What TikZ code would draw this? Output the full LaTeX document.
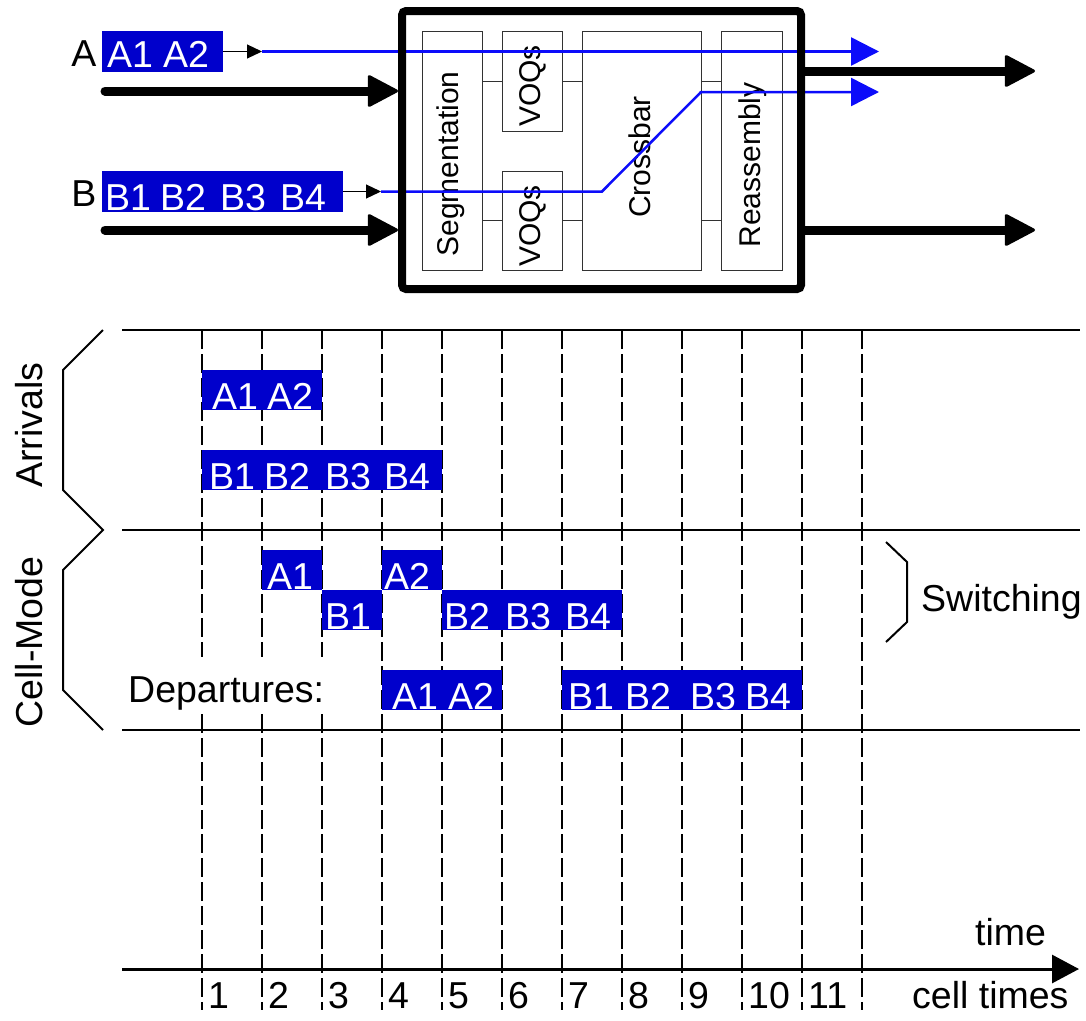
\documentclass[tikz,border=0pt]{standalone}
\usepackage{fontspec}
\setmainfont{Liberation Sans}
\usetikzlibrary{arrows.meta}
\definecolor{barblue}{RGB}{0,0,204}
\definecolor{lineblue}{RGB}{12,12,250}
\definecolor{boxgray}{RGB}{50,50,50}

\begin{document}
\begin{tikzpicture}[x=1pt,y=-1pt,
  big/.style={font=\fontsize{37.5}{40}\selectfont},
  small/.style={font=\fontsize{30}{32}\selectfont},
  bar/.style={fill=barblue, inner sep=0pt, outer sep=0pt, anchor=north west},
  celltext/.style={big, text=white, anchor=base west, inner sep=0pt},
  plain/.style={big, anchor=base west, inner sep=0pt},
  unit/.style={draw=boxgray, line width=1pt, inner sep=0pt, outer sep=0pt, anchor=north west},
  unitlink/.style={draw=boxgray, line width=1pt},
  gridline/.style={line width=2.7pt, dash pattern=on 19pt off 5pt},
  rule/.style={line width=1.5pt},
  axisline/.style={line width=3pt, -{Triangle[length=27pt,width=28pt]}},
  brace/.style={line width=2pt},
  thinarrow/.style={line width=1.2pt, -{Triangle[length=15pt,width=14pt]}},
  bluearrow/.style={draw=lineblue, line width=2.5pt, line join=miter, -{Triangle[length=28pt,width=28pt]}},
  thickarrow/.style={line width=9pt, -{Triangle[length=32pt,width=33pt,round,line width=3pt]}},
]
\useasboundingbox (0,0) rectangle (1086,1020);

% ---------- timing chart: cell boundaries, row rules, time axis ----------
\foreach \k in {0,...,11}
  \draw[gridline] (202+60*\k,330) -- (202+60*\k,1010);
\foreach \y in {330,530,730}
  \draw[rule] (122,\y) -- (1080,\y);
\coordinate (ax0) at (122,969);
\coordinate (ax1) at (1079,969);
\draw[axisline] (ax0) -- (ax1);

% ---------- arrivals ----------
\node[bar, minimum width=120pt, minimum height=40pt] (arrA) at (202,370) {};
\foreach \x/\t in {212/A1, 267/A2} \node[celltext] at (\x,409) {\t};
\node[bar, minimum width=240pt, minimum height=40pt] (arrB) at (202,450) {};
\foreach \x/\t in {209/B1, 264/B2, 325/B3, 384/B4} \node[celltext] at (\x,489) {\t};

% ---------- switching (cell mode) ----------
\node[bar, minimum width=60pt, minimum height=40pt] (swA1) at (262,550) {};
\node[celltext] at (267,589) {A1};
\node[bar, minimum width=60pt, minimum height=40pt] (swA2) at (382,550) {};
\node[celltext] at (384,589) {A2};
\node[bar, minimum width=60pt, minimum height=40pt] (swB1) at (322,590) {};
\node[celltext] at (325,629) {B1};
\node[bar, minimum width=180pt, minimum height=40pt] (swB2) at (442,590) {};
\foreach \x/\t in {444/B2, 505/B3, 565/B4} \node[celltext] at (\x,629) {\t};

% ---------- departures ----------
\node[big, fill=white, anchor=base west, inner ysep=0pt, inner xsep=4pt,
      text height=45pt, text depth=11pt] (dep) at (124,702) {Departures:};
\node[bar, minimum width=120pt, minimum height=40pt] (depA) at (382,670) {};
\foreach \x/\t in {392/A1, 448/A2} \node[celltext] at (\x,709) {\t};
\node[bar, minimum width=240pt, minimum height=40pt] (depB) at (562,670) {};
\foreach \x/\t in {568/B1, 625/B2, 690/B3, 745/B4} \node[celltext] at (\x,709) {\t};

% ---------- braces and row labels ----------
\draw[brace] (103,330) -- (63,370) -- (63,490) -- (103,530)
             -- (63,570) -- (63,690) -- (103,730);
\node[big, rotate=90] (arrlbl) at (29,425) {Arrivals};
\node[big, rotate=90] (cmlbl) at (29,642) {Cell-Mode};
\draw[brace] (886,542) -- (907,562) -- (907,622) -- (886,642);
\node[plain] (swlbl) at (921,611) {Switching};

% ---------- axis labels ----------
\node[plain] (timelbl) at (975,945) {time};
\node[plain] (celllbl) at (912,1008) {cell times};
\foreach \k in {1,...,11}
  \node[plain] (n\k) at (148+60*\k,1008) {\k};

% ---------- switch internals ----------
\node[unit, minimum width=60pt, minimum height=239pt] (seg) at (422,31) {};
\node[unit, minimum width=60pt, minimum height=100pt] (voq1) at (502,31) {};
\node[unit, minimum width=60pt, minimum height=99pt] (voq2) at (502,171) {};
\node[unit, minimum width=119pt, minimum height=239pt] (xbar) at (582,31) {};
\node[unit, minimum width=61pt, minimum height=239pt] (reasm) at (721,31) {};
\node[small, rotate=90] at (451,164) {Segmentation};
\node[small, rotate=90] at (533,86) {VOQs};
\node[small, rotate=90] at (533,226) {VOQs};
\node[small, rotate=90] at (640,157) {Crossbar};
\node[small, rotate=90] at (753,165) {Reassembly};
\draw[unitlink] (seg.east |- voq1.west) -- (voq1.west);
\draw[unitlink] (voq1.east) -- (xbar.west |- voq1.east);
\draw[unitlink] (xbar.east |- voq1.east) -- (reasm.west |- voq1.east);
\draw[unitlink] (seg.east |- voq2.west) -- (voq2.west);
\draw[unitlink] (voq2.east) -- (xbar.west |- voq2.east);
\draw[unitlink] (xbar.east |- voq2.east) -- (reasm.west |- voq2.east);

% ---------- input packets and their paths ----------
\node[big] (lblA) at (84,54) {A};
\node[bar, minimum width=121pt, minimum height=41pt] (inA) at (102,31) {};
\foreach \x/\t in {107/A1, 163/A2} \node[celltext] at (\x,67) {\t};
\node[big] (lblB) at (84,193.5) {B};
\node[bar, minimum width=241pt, minimum height=41pt] (inB) at (102,171) {};
\foreach \x/\t in {105/B1, 160/B2, 220/B3, 280/B4} \node[celltext] at (\x,210) {\t};

\coordinate (tipA) at (262,51.5);
\coordinate (dstA) at (879,51.5);
\coordinate (tipB) at (381,191.5);
\coordinate (bendB1) at (602,191.5);
\coordinate (bendB2) at (701,92);
\coordinate (dstB) at (879,92);
\draw[thinarrow] (inA.east) -- (tipA);
\draw[thinarrow] (inB.east) -- (tipB);
\draw[bluearrow] (tipA) -- (dstA);
\draw[bluearrow] (tipB) -- (bendB1) -- (bendB2) -- (dstB);

% ---------- switch enclosure and ports ----------
\node[draw, line width=8pt, rounded corners=4pt, inner sep=0pt,
      minimum width=399pt, minimum height=278pt] (sw) at (601.5,150) {};
\coordinate (srcA) at (105,91);
\coordinate (srcB) at (105,230);
\coordinate (outA) at (1035,71);
\coordinate (outB) at (1035,230);
\draw[thickarrow, line cap=round] (srcA) -- (srcA -| sw.west);
\draw[thickarrow, line cap=round] (srcB) -- (srcB -| sw.west);
\draw[thickarrow] (sw.east |- outA) -- (outA);
\draw[thickarrow] (sw.east |- outB) -- (outB);
\end{tikzpicture}
\end{document}
